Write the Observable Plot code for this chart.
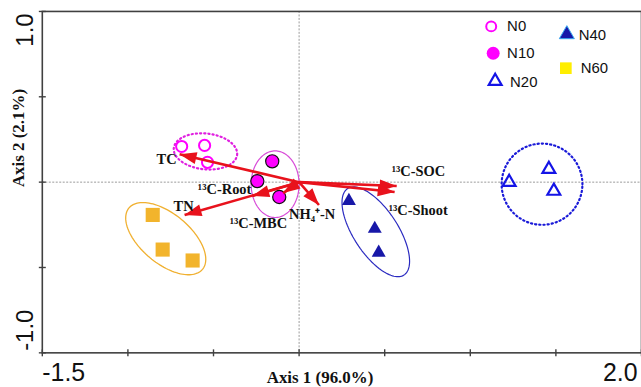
<!DOCTYPE html>
<html><head><meta charset="utf-8">
<script src="https://cdn.jsdelivr.net/npm/d3@7"></script>
<script src="https://cdn.jsdelivr.net/npm/@observablehq/plot@0.6"></script>
<style>
html,body{margin:0;padding:0;background:#fff;}
#chart{width:641px;height:387px;overflow:hidden;position:relative;}
</style></head><body><div id="chart"></div>
<script>
// ---- data ----
const groups = ["N0", "N10", "N20", "N40", "N60"];
const sampleGroup = ["N0","N0","N0","N10","N10","N10","N20","N20","N20","N40","N40","N40","N60","N60","N60"];
const sampleAxis1 = [-0.686,-0.552,-0.535, -0.157,-0.244,-0.116, 1.459,1.227,1.488, 0.291,0.442,0.465, -0.855,-0.797,-0.622];
const sampleAxis2 = [ 0.209, 0.215, 0.116,  0.122, 0.006,-0.087, 0.076,0.000,-0.052, -0.110,-0.273,-0.413, -0.192,-0.395,-0.459];

const variables = ["TC", "TN", "¹³C-Root", "¹³C-MBC", "NH₄⁺-N", "¹³C-SOC", "¹³C-Shoot"];
const loading1 = [-0.698, -0.669, -0.273, -0.093, 0.116, 0.570, 0.558];
const loading2 = [ 0.163, -0.192, -0.081, -0.064, -0.134, -0.023, -0.058];

// confidence ellipses (centre, semi-axes, rotation in degrees)
const ellipseGroup = ["N0", "N10", "N20", "N40", "N60"];
const ellipseCx = [-0.547, -0.140, 1.419, 0.448, -0.779];
const ellipseCy = [ 0.180, -0.012, -0.012, -0.291, -0.331];
const ellipseA = [0.186, 0.140, 0.236, 0.302, 0.280];
const ellipseB = [0.105, 0.195, 0.238, 0.130, 0.145];
const ellipseAngle = [-6, 0, 0, -57, -40];

const xTickValues = [-1.5, -1, -0.5, 0, 0.5, 1, 1.5, 2];
const yTickValues = [-1, -0.5, 0, 0.5, 1];
const xTickLabels = ["-1.5", "2.0"];
const yTickLabels = ["-1.0", "1.0"];
const xTitle = "Axis 1 (96.0%)";
const yTitle = "Axis 2 (2.1%)";

// ---- styles ----
const style = {
  N0:  {symbol: "circle",   fill: "none",    stroke: "#FF00FF", r: 5.6, sw: 2},
  N10: {symbol: "circle",   fill: "#FF00FF", stroke: "#111",    r: 6.6, sw: 1.2},
  N20: {symbol: "triangle", fill: "none",    stroke: "#1414E6", r: 4.8, sw: 2.2},
  N40: {symbol: "triangle", fill: "#1818A8", stroke: "none",    r: 5.2, sw: 0},
  N60: {symbol: "square",   fill: "#F2B42C", stroke: "none",    r: 8.0, sw: 0}
};
const ellStyle = {
  N0:  {stroke: "#E020E0", sw: 2.2, dash: "1.2,3"},
  N10: {stroke: "#D84CD8", sw: 1.2, dash: null},
  N20: {stroke: "#1A1AD8", sw: 2.2, dash: "1.2,3"},
  N40: {stroke: "#2A2AC0", sw: 1.2, dash: null},
  N60: {stroke: "#F0B030", sw: 1.3, dash: null}
};
const labelStyle = {
  "TC":        {dx: -3, dy: 5,   anchor: "end"},
  "TN":        {dx: -1, dy: -9,  anchor: "middle"},
  "¹³C-Root":  {dx: -1, dy: -7,  anchor: "end"},
  "¹³C-MBC":   {dx: 4,  dy: 30,  anchor: "end"},
  "NH₄⁺-N":    {dx: -30, dy: 9,  anchor: "start"},
  "¹³C-SOC":   {dx: -5, dy: -15, anchor: "start"},
  "¹³C-Shoot": {dx: -6, dy: 18,  anchor: "start"}
};
const legendLayout = {
  N0:  {sx: 493, sy: 26, tx: 509, ty: 26, r: 5, sw: 2, fill: "none", stroke: "#FF00FF"},
  N10: {sx: 495, sy: 53, tx: 509, ty: 53, r: 6.5, sw: 0, fill: "#FF00FF", stroke: "none"},
  N20: {sx: 497, sy: 81, tx: 512, ty: 82, r: 4.8, sw: 2.2, fill: "none", stroke: "#1414E6"},
  N40: {sx: 569, sy: 34, tx: 581, ty: 35, r: 5.6, sw: 1, fill: "#1818A8", stroke: "#38A8F0"},
  N60: {sx: 568, sy: 68, tx: 583, ty: 68, r: 6.6, sw: 0, fill: "#FFEE00", stroke: "none"}
};
const RED = "#E8121C";
const serif = "'Liberation Serif','Times New Roman',serif";
const sans = "'Liberation Sans',Arial,sans-serif";

// ---- tables ----
const samples = sampleGroup.map((g, i) => ({g, x: sampleAxis1[i], y: sampleAxis2[i]}));
const arrows = variables.map((v, i) => ({v, x: loading1[i], y: loading2[i]}));
const ellipses = ellipseGroup.map((g, i) => {
  const a = ellipseA[i], b = ellipseB[i], t = ellipseAngle[i] * Math.PI / 180;
  return {g, pts: d3.range(0, 361, 3).map(d => {
    const u = d * Math.PI / 180;
    const ex = a * Math.cos(u), ey = b * Math.sin(u);
    return {x: ellipseCx[i] + ex * Math.cos(t) - ey * Math.sin(t),
            y: ellipseCy[i] + ex * Math.sin(t) + ey * Math.cos(t)};
  })};
});

function filledArrow(color) {
  const ns = "http://www.w3.org/2000/svg";
  const m = document.createElementNS(ns, "marker");
  m.setAttribute("viewBox", "-19 -7 20 14");
  m.setAttribute("markerWidth", 20);
  m.setAttribute("markerHeight", 14);
  m.setAttribute("markerUnits", "userSpaceOnUse");
  m.setAttribute("orient", "auto");
  m.setAttribute("refX", 0);
  m.setAttribute("refY", 0);
  m.setAttribute("overflow", "visible");
  const p = document.createElementNS(ns, "path");
  p.setAttribute("d", "M-17,-6L0,0L-17,6Z");
  p.setAttribute("fill", color);
  p.setAttribute("stroke", "none");
  m.appendChild(p);
  return m;
}
const vTick = {draw(c) { c.moveTo(0, -3.5); c.lineTo(0, 3.5); }};
const hTick = {draw(c) { c.moveTo(-3.5, 0); c.lineTo(3.5, 0); }};

const FL = 42, FT = 11; // frame left/top (for frame-anchored legend)

const marks = [];
// zero reference lines
marks.push(Plot.ruleX([0], {stroke: "#9a9a9a", strokeWidth: 1, strokeDasharray: "2,1.5"}));
marks.push(Plot.ruleY([0], {stroke: "#9a9a9a", strokeWidth: 1, strokeDasharray: "2,1.5"}));
// ellipses
for (const e of ellipses) {
  const s = ellStyle[e.g];
  marks.push(Plot.line(e.pts, {x: "x", y: "y", stroke: s.stroke, strokeWidth: s.sw,
    strokeDasharray: s.dash, strokeLinecap: s.dash ? "round" : "butt", curve: "linear-closed"}));
}
// sample points
for (const g of groups) {
  const s = style[g];
  marks.push(Plot.dot(samples.filter(d => d.g === g), {x: "x", y: "y", symbol: s.symbol, r: s.r,
    fill: s.fill, stroke: s.stroke, strokeWidth: s.sw}));
}
// arrows
marks.push(Plot.link(arrows, {x1: () => 0, y1: () => 0, x2: "x", y2: "y", stroke: RED,
  strokeWidth: 2.6, markerEnd: filledArrow}));
// arrow labels
for (const a of arrows) {
  const ls = labelStyle[a.v];
  marks.push(Plot.text([a], {x: "x", y: "y", text: "v", dx: ls.dx, dy: ls.dy, textAnchor: ls.anchor,
    lineAnchor: "middle", fontFamily: serif, fontWeight: "bold", fontSize: 14.5, fill: "#111"}));
}
// frame & ticks
marks.push(Plot.frame({stroke: "#404040", strokeWidth: 1.6}));
marks.push(Plot.dot(xTickValues, {x: d => d, y: () => -1, symbol: vTick, stroke: "#404040", strokeWidth: 1.4}));
marks.push(Plot.dot(yTickValues, {x: () => -1.5, y: d => d, symbol: hTick, stroke: "#404040", strokeWidth: 1.4}));
// tick labels
marks.push(Plot.text([xTickLabels[0]], {x: () => -1.5, y: () => -1, text: d => d, textAnchor: "start",
  lineAnchor: "top", dy: 11, dx: 0, fontFamily: sans, fontSize: 25, fill: "#111"}));
marks.push(Plot.text([xTickLabels[1]], {x: () => 2, y: () => -1, text: d => d, textAnchor: "end",
  lineAnchor: "top", dy: 11, dx: -4, fontFamily: sans, fontSize: 25, fill: "#111"}));
marks.push(Plot.text([yTickLabels[1]], {x: () => -1.5, y: () => 1, text: d => d, textAnchor: "end",
  lineAnchor: "middle", rotate: -90, dx: -17, dy: 2, fontFamily: sans, fontSize: 24, fill: "#111"}));
marks.push(Plot.text([yTickLabels[0]], {x: () => -1.5, y: () => -1, text: d => d, textAnchor: "start",
  lineAnchor: "middle", rotate: -90, dx: -17, dy: -2, fontFamily: sans, fontSize: 24, fill: "#111"}));
// axis titles
marks.push(Plot.text([xTitle], {frameAnchor: "bottom", text: d => d, dx: -22, dy: 18, lineAnchor: "top",
  fontFamily: serif, fontWeight: "bold", fontSize: 17, fill: "#111"}));
marks.push(Plot.text([yTitle], {frameAnchor: "left", text: d => d, dx: -24, dy: 5, rotate: -90,
  lineAnchor: "middle", fontFamily: serif, fontWeight: "bold", fontSize: 17, fill: "#111"}));
// legend
for (const g of groups) {
  const L = legendLayout[g];
  marks.push(Plot.dot([g], {frameAnchor: "top-left", dx: L.sx - FL, dy: L.sy - FT, symbol: style[g].symbol,
    r: L.r, fill: L.fill, stroke: L.stroke, strokeWidth: L.sw}));
  marks.push(Plot.text([g], {frameAnchor: "top-left", dx: L.tx - FL, dy: L.ty - FT, text: d => d,
    textAnchor: "start", lineAnchor: "middle", fontFamily: sans, fontSize: 15, fill: "#111"}));
}

const chart = Plot.plot({
  width: 644, height: 387,
  marginLeft: 42, marginRight: 0, marginTop: 11, marginBottom: 33,
  x: {domain: [-1.5, 2], axis: null},
  y: {domain: [-1, 1], axis: null},
  style: {background: "#fff", overflow: "visible"},
  marks
});
document.getElementById("chart").appendChild(chart);
</script></body></html>
